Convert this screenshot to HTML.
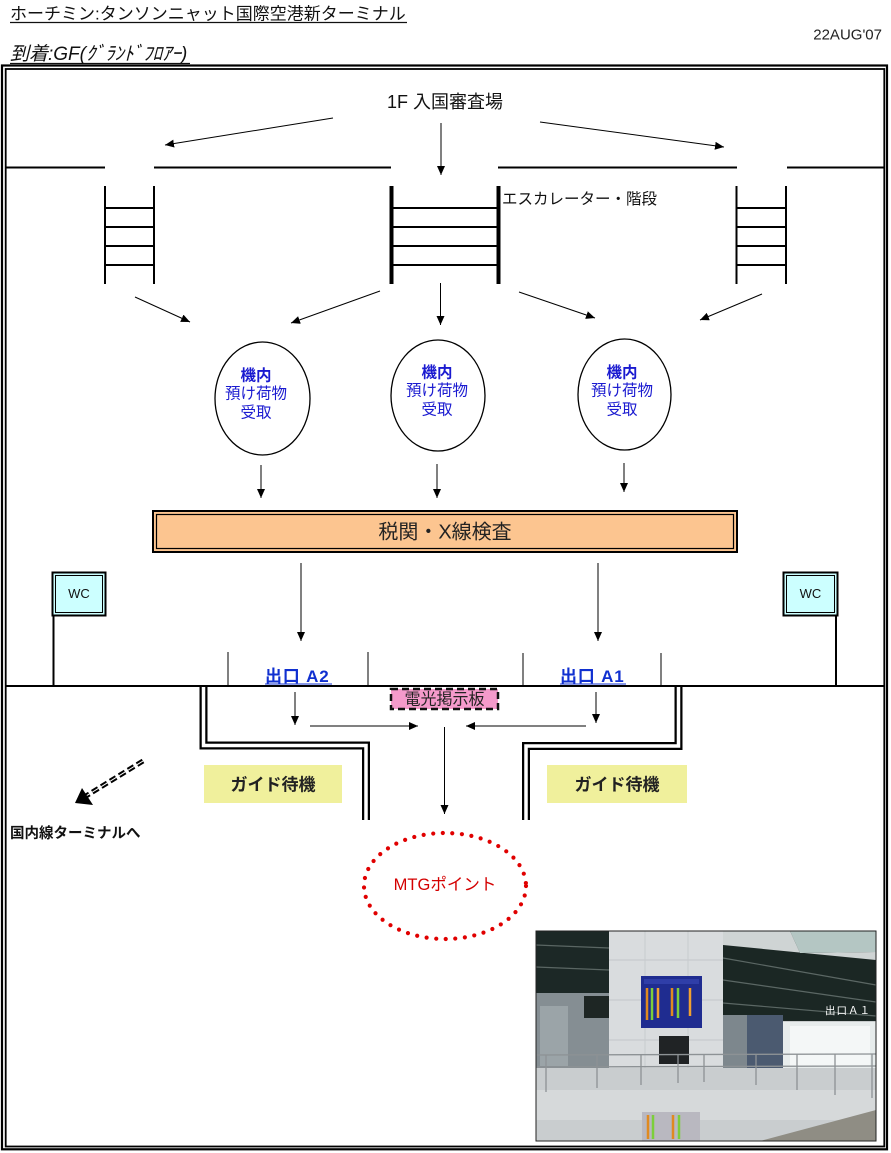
<!DOCTYPE html>
<html>
<head>
<meta charset="utf-8">
<style>
  html,body{margin:0;padding:0;background:#fff;}
  body{width:891px;height:1153px;overflow:hidden;}
  svg{display:block;}
  text{font-family:"Liberation Sans","Noto Sans CJK JP",sans-serif;}
</style>
</head>
<body>
<svg width="891" height="1153" viewBox="0 0 891 1153" xmlns="http://www.w3.org/2000/svg">
  <defs>
    <marker id="ah" viewBox="0 0 10 10" refX="10" refY="5" markerUnits="userSpaceOnUse" markerWidth="9" markerHeight="8" orient="auto" preserveAspectRatio="none">
      <path d="M0,0 L10,5 L0,10 z" fill="#000"/>
    </marker>
  </defs>

  <!-- header texts -->
  <text x="10" y="19.5" font-size="17" fill="#111">ホーチミン:タンソンニャット国際空港新ターミナル</text>
  <line x1="10" y1="22.5" x2="407" y2="22.5" stroke="#111" stroke-width="1.3"/>
  <text x="882" y="39.5" font-size="15" fill="#222" text-anchor="end">22AUG'07</text>
  <text x="10" y="60" font-size="19" font-style="italic" fill="#111">到着:GF(ｸﾞﾗﾝﾄﾞﾌﾛｱｰ)</text>
  <line x1="10" y1="63.5" x2="190" y2="63.5" stroke="#111" stroke-width="1.2"/>

  <!-- outer double border -->
  <rect x="2" y="65.5" width="885" height="1083.8" fill="none" stroke="#000" stroke-width="2.2"/>
  <rect x="5.7" y="69" width="878.6" height="1077.5" fill="none" stroke="#000" stroke-width="1.8"/>

  <!-- 1F label & top arrows -->
  <text x="445" y="108" font-size="18" fill="#111" text-anchor="middle">1F 入国審査場</text>
  <line x1="333" y1="118" x2="165" y2="145" stroke="#000" stroke-width="1" marker-end="url(#ah)"/>
  <line x1="441" y1="123" x2="441" y2="175" stroke="#000" stroke-width="1" marker-end="url(#ah)"/>
  <line x1="540" y1="122" x2="724" y2="147" stroke="#000" stroke-width="1" marker-end="url(#ah)"/>

  <!-- wall line y=168 -->
  <g stroke="#000" stroke-width="2">
    <line x1="6" y1="167.5" x2="105" y2="167.5"/>
    <line x1="154" y1="167.5" x2="391" y2="167.5"/>
    <line x1="498" y1="167.5" x2="737" y2="167.5"/>
    <line x1="787" y1="167.5" x2="884" y2="167.5"/>
  </g>

  <!-- ladders -->
  <g stroke="#000" stroke-width="2">
    <line x1="105" y1="186" x2="105" y2="284"/>
    <line x1="154" y1="186" x2="154" y2="284"/>
    <line x1="105" y1="208" x2="154" y2="208"/>
    <line x1="105" y1="227" x2="154" y2="227"/>
    <line x1="105" y1="246" x2="154" y2="246"/>
    <line x1="105" y1="265" x2="154" y2="265"/>

    <line x1="391" y1="208" x2="498" y2="208"/>
    <line x1="391" y1="227" x2="498" y2="227"/>
    <line x1="391" y1="246" x2="498" y2="246"/>
    <line x1="391" y1="265" x2="498" y2="265"/>

    <line x1="736.5" y1="186" x2="736.5" y2="284"/>
    <line x1="786" y1="186" x2="786" y2="284"/>
    <line x1="736.5" y1="208" x2="786" y2="208"/>
    <line x1="736.5" y1="227" x2="786" y2="227"/>
    <line x1="736.5" y1="246" x2="786" y2="246"/>
    <line x1="736.5" y1="265" x2="786" y2="265"/>
  </g>
  <line x1="391.5" y1="186" x2="391.5" y2="284" stroke="#000" stroke-width="4"/>
  <line x1="498.5" y1="186" x2="498.5" y2="284" stroke="#000" stroke-width="4"/>
  <text x="502" y="204" font-size="15.5" fill="#111">エスカレーター・階段</text>

  <!-- arrows from escalators -->
  <g stroke="#000" stroke-width="1">
    <line x1="135" y1="297" x2="190" y2="322" marker-end="url(#ah)"/>
    <line x1="380" y1="291" x2="291" y2="323" marker-end="url(#ah)"/>
    <line x1="440.5" y1="283" x2="440.5" y2="325" marker-end="url(#ah)"/>
    <line x1="519" y1="292" x2="595" y2="318" marker-end="url(#ah)"/>
    <line x1="762" y1="294" x2="700" y2="320" marker-end="url(#ah)"/>
  </g>

  <!-- baggage ellipses -->
  <g fill="#fff" stroke="#000" stroke-width="1.3">
    <ellipse cx="262.5" cy="398.5" rx="47.5" ry="56.5"/>
    <ellipse cx="438" cy="395.5" rx="47" ry="55.5"/>
    <ellipse cx="624.5" cy="394.5" rx="46.5" ry="55.5"/>
  </g>
  <g font-size="15.5" fill="#1a1ad0" text-anchor="middle">
    <text x="256" y="380.5" font-weight="bold">機内</text>
    <text x="256" y="398.5">預け荷物</text>
    <text x="256" y="417.5">受取</text>
    <text x="437" y="377.5" font-weight="bold">機内</text>
    <text x="437" y="395.5">預け荷物</text>
    <text x="437" y="414.5">受取</text>
    <text x="622" y="377.5" font-weight="bold">機内</text>
    <text x="622" y="395.5">預け荷物</text>
    <text x="622" y="414.5">受取</text>
  </g>

  <!-- arrows to customs -->
  <g stroke="#000" stroke-width="1">
    <line x1="261" y1="465" x2="261" y2="498" marker-end="url(#ah)"/>
    <line x1="437" y1="464" x2="437" y2="498" marker-end="url(#ah)"/>
    <line x1="624" y1="463" x2="624" y2="492" marker-end="url(#ah)"/>
  </g>

  <!-- customs bar -->
  <rect x="152" y="510" width="586" height="43" fill="#fcc590"/>
  <rect x="153" y="511" width="584" height="41" fill="none" stroke="#000" stroke-width="2"/>
  <rect x="156.5" y="514.5" width="577" height="34" fill="none" stroke="#000" stroke-width="1.2"/>
  <text x="445" y="538.5" font-size="20" fill="#222" text-anchor="middle">税関・X線検査</text>

  <!-- arrows from customs -->
  <g stroke="#000" stroke-width="1">
    <line x1="301" y1="563" x2="301" y2="641" marker-end="url(#ah)"/>
    <line x1="598" y1="563" x2="598" y2="641" marker-end="url(#ah)"/>
  </g>

  <!-- WC boxes -->
  <rect x="52.5" y="572.5" width="53" height="43" fill="#ccffff" stroke="#000" stroke-width="2"/>
  <rect x="55.5" y="575.5" width="47" height="37" fill="none" stroke="#000" stroke-width="1"/>
  <text x="79" y="598" font-size="13" fill="#111" text-anchor="middle">WC</text>
  <line x1="53.5" y1="616" x2="53.5" y2="686" stroke="#000" stroke-width="2"/>

  <rect x="783.5" y="572.5" width="54" height="43" fill="#ccffff" stroke="#000" stroke-width="2"/>
  <rect x="786.5" y="575.5" width="48" height="37" fill="none" stroke="#000" stroke-width="1"/>
  <text x="810.5" y="598" font-size="13" fill="#111" text-anchor="middle">WC</text>
  <line x1="836" y1="616" x2="836" y2="686" stroke="#000" stroke-width="2"/>

  <!-- exit marks -->
  <g stroke="#000" stroke-width="1">
    <line x1="228" y1="652" x2="228" y2="686"/>
    <line x1="368" y1="652" x2="368" y2="686"/>
    <line x1="523" y1="653" x2="523" y2="686"/>
    <line x1="661" y1="653" x2="661" y2="686"/>
  </g>
  <text x="265" y="682" font-size="17" font-weight="bold" fill="#1030d0" letter-spacing="0.8">出口 A2</text>
  <line x1="265" y1="684" x2="332" y2="684" stroke="#1030d0" stroke-width="1"/>
  <text x="560" y="682" font-size="17" font-weight="bold" fill="#1030d0" letter-spacing="0.8">出口 A1</text>
  <line x1="560" y1="684" x2="626" y2="684" stroke="#1030d0" stroke-width="1"/>

  <!-- main horizontal line -->
  <line x1="6" y1="686" x2="884" y2="686" stroke="#000" stroke-width="2"/>

  <!-- walls -->
  <g fill="none" stroke-linejoin="miter">
    <path d="M203.5,687 L203.5,745.5 L366,745.5 L366,820" stroke="#000" stroke-width="8"/>
    <path d="M203.5,687 L203.5,745.5 L366,745.5 L366,820" stroke="#fff" stroke-width="3.5"/>
    <path d="M678.5,687 L678.5,746 L526,746 L526,820" stroke="#000" stroke-width="8"/>
    <path d="M678.5,687 L678.5,746 L526,746 L526,820" stroke="#fff" stroke-width="3.5"/>
  </g>

  <!-- sign -->
  <rect x="391" y="689" width="107" height="20" fill="#f59acb"/>
  <rect x="391" y="689" width="107" height="20" fill="none" stroke="#111" stroke-width="2.5" stroke-dasharray="7 4"/>
  <text x="444.5" y="704.5" font-size="16" fill="#222" text-anchor="middle">電光掲示板</text>

  <!-- arrows below exits -->
  <g stroke="#000" stroke-width="1">
    <line x1="295" y1="692" x2="295" y2="725" marker-end="url(#ah)"/>
    <line x1="310" y1="726" x2="418" y2="726" marker-end="url(#ah)"/>
    <line x1="596" y1="692" x2="596" y2="723" marker-end="url(#ah)"/>
    <line x1="586" y1="726" x2="466" y2="726" marker-end="url(#ah)"/>
    <line x1="444.5" y1="727" x2="444.5" y2="814" marker-end="url(#ah)"/>
  </g>

  <!-- guide areas -->
  <rect x="204" y="765" width="138" height="38" fill="#f0f09c"/>
  <text x="273" y="790.5" font-size="17" font-weight="bold" fill="#222" text-anchor="middle">ガイド待機</text>
  <rect x="547" y="765" width="140" height="38" fill="#f0f09c"/>
  <text x="617" y="790.5" font-size="17" font-weight="bold" fill="#222" text-anchor="middle">ガイド待機</text>

  <!-- dashed arrow to domestic -->
  <line x1="143" y1="761" x2="86" y2="796" stroke="#000" stroke-width="5" stroke-dasharray="7 3.5"/>
  <line x1="143" y1="761" x2="86" y2="796" stroke="#fff" stroke-width="1" stroke-dasharray="7 3.5"/>
  <path d="M75,803 L82,788 L93,805 z" fill="#000"/>
  <text x="10" y="838" font-size="14.5" font-weight="bold" fill="#111">国内線ターミナルへ</text>

  <!-- MTG point -->
  <ellipse cx="445" cy="886" rx="81" ry="53" fill="none" stroke="#e00000" stroke-width="4.2" stroke-linecap="round" stroke-dasharray="0 9.6"/>
  <text x="445" y="890" font-size="16.5" fill="#d40000" text-anchor="middle">MTGポイント</text>

  <!-- photo -->
  <g>
    <rect x="536" y="931" width="340" height="210" fill="#c8cccd"/>
    <rect x="536" y="931" width="73" height="62" fill="#1c2826"/>
    <line x1="536" y1="945" x2="609" y2="948" stroke="#5a6663" stroke-width="1.2"/>
    <line x1="536" y1="967" x2="609" y2="970" stroke="#5a6663" stroke-width="1.2"/>
    <rect x="536" y="993" width="73" height="75" fill="#858e93"/>
    <rect x="540" y="1006" width="28" height="60" fill="#9ba4a8"/>
    <rect x="584" y="996" width="25" height="22" fill="#1e2624"/>
    <rect x="609" y="931" width="114" height="137" fill="#d9dcde"/>
    <line x1="609" y1="960" x2="723" y2="960" stroke="#c2c6c9" stroke-width="1"/>
    <line x1="609" y1="1000" x2="723" y2="1000" stroke="#c2c6c9" stroke-width="1"/>
    <line x1="609" y1="1040" x2="723" y2="1040" stroke="#c2c6c9" stroke-width="1"/>
    <line x1="645" y1="931" x2="645" y2="1068" stroke="#c8ccce" stroke-width="1"/>
    <line x1="688" y1="931" x2="688" y2="1068" stroke="#c8ccce" stroke-width="1"/>
    <rect x="723" y="931" width="153" height="90" fill="#1b2724"/>
    <polygon points="790,931 876,931 876,952 800,953" fill="#b4c6c3"/>
    <polygon points="723,931 790,931 800,953 876,952 876,960 723,945" fill="#cfd4d4"/>
    <line x1="723" y1="958" x2="876" y2="985" stroke="#5b6764" stroke-width="1.2"/>
    <line x1="723" y1="980" x2="876" y2="1002" stroke="#5b6764" stroke-width="1.2"/>
    <line x1="723" y1="1003" x2="876" y2="1016" stroke="#5b6764" stroke-width="1.2"/>
    <rect x="723" y="1015" width="24" height="53" fill="#7d878d"/>
    <rect x="747" y="1015" width="36" height="53" fill="#4b5a70"/>
    <rect x="783" y="1022" width="93" height="70" fill="#e7ecec"/>
    <rect x="790" y="1026" width="80" height="40" fill="#f4f7f7"/>
    <rect x="641" y="976" width="61" height="52" fill="#1f2c90"/>
    <rect x="644" y="979" width="55" height="5" fill="#2f3ea8"/>
    <g stroke-width="2.5">
      <line x1="647" y1="988" x2="647" y2="1020" stroke="#e08a20"/>
      <line x1="652" y1="988" x2="652" y2="1020" stroke="#7ccf3a"/>
      <line x1="658" y1="988" x2="658" y2="1018" stroke="#f0a030"/>
      <line x1="672" y1="988" x2="672" y2="1016" stroke="#e08a20"/>
      <line x1="678" y1="988" x2="678" y2="1018" stroke="#7ccf3a"/>
      <line x1="690" y1="988" x2="690" y2="1016" stroke="#f0a030"/>
    </g>
    <rect x="659" y="1036" width="30" height="28" fill="#202325"/>
    <rect x="536" y="1068" width="340" height="73" fill="#c9cdcf"/>
    <rect x="536" y="1090" width="340" height="30" fill="#d6d9da"/>
    <polygon points="760,1141 876,1110 876,1141" fill="#8f8d84"/>
    <rect x="642" y="1112" width="58" height="29" fill="#b9b8c0"/>
    <g stroke-width="2.5">
      <line x1="648" y1="1115" x2="648" y2="1139" stroke="#e08a20"/>
      <line x1="653" y1="1115" x2="653" y2="1139" stroke="#7ccf3a"/>
      <line x1="673" y1="1115" x2="673" y2="1139" stroke="#e08a20"/>
      <line x1="679" y1="1115" x2="679" y2="1139" stroke="#7ccf3a"/>
    </g>
    <g stroke="#8d9295" stroke-width="1.3">
      <line x1="536" y1="1055" x2="876" y2="1054"/>
      <line x1="536" y1="1067" x2="876" y2="1066"/>
      <line x1="546" y1="1055" x2="546" y2="1092"/>
      <line x1="597" y1="1055" x2="597" y2="1088"/>
      <line x1="641" y1="1055" x2="641" y2="1085"/>
      <line x1="678" y1="1055" x2="678" y2="1083"/>
      <line x1="704" y1="1055" x2="704" y2="1082"/>
      <line x1="756" y1="1055" x2="756" y2="1085"/>
      <line x1="797" y1="1054" x2="797" y2="1090"/>
      <line x1="835" y1="1054" x2="835" y2="1095"/>
      <line x1="872" y1="1054" x2="872" y2="1098"/>
    </g>
    <text x="825" y="1014" font-size="10.5" fill="#fff" letter-spacing="1">出口Ａ１</text>
    <rect x="536" y="931" width="340" height="210" fill="none" stroke="#222" stroke-width="1"/>
  </g>
</svg>
</body>
</html>
